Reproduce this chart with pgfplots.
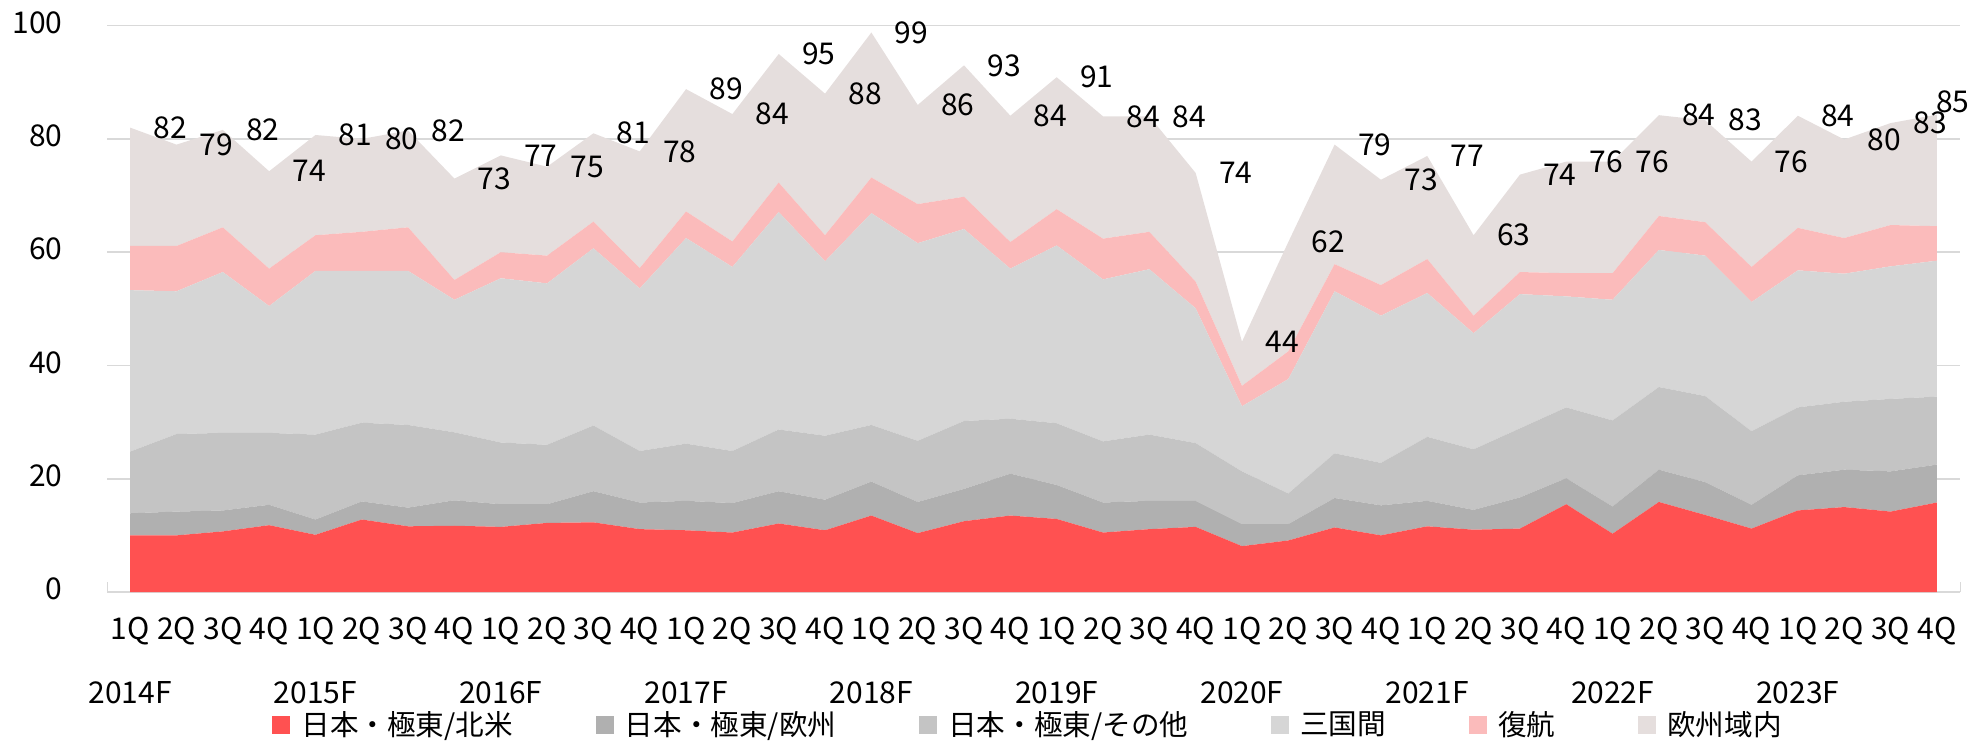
\documentclass[border=0pt]{standalone}
\usepackage{fontspec}
\setmainfont{Noto Sans CJK JP}
\usepackage{pgfplots}
\usepackage{pgfplotstable}
\pgfplotsset{compat=1.18}
\definecolor{cA}{RGB}{255,81,81}
\definecolor{cB}{RGB}{176,176,176}
\definecolor{cC}{RGB}{196,196,196}
\definecolor{cD}{RGB}{214,214,214}
\definecolor{cE}{RGB}{251,187,187}
\definecolor{cF}{RGB}{229,222,221}
\definecolor{gridc}{RGB}{217,217,217}
\newcommand\myfont{\fontsize{15pt}{18pt}\selectfont}
\newcommand\legfont{\fontsize{14.3pt}{17pt}\selectfont}
\newcommand\lastlbl{\raisebox{13pt}{\kern-12pt 85}}
\pgfplotstableread{
x s1 s2 s3 s4 s5 s6 lbl
0 10.0 3.9 10.9 28.5 7.8 20.9 82
1 10.0 4.2 13.7 25.2 8.0 17.9 79
2 10.7 3.7 13.7 28.4 7.9 17.2 82
3 11.8 3.6 12.7 22.4 6.6 17.2 74
4 10.1 2.7 15.0 28.9 6.3 17.7 81
5 12.8 3.2 13.9 26.8 6.9 16.4 80
6 11.6 3.3 14.6 27.2 7.7 17.1 82
7 11.7 4.5 12.0 23.4 3.5 17.9 73
8 11.5 4.0 10.9 29.0 4.6 17.1 77
9 12.2 3.3 10.5 28.5 4.9 15.7 75
10 12.3 5.5 11.6 31.3 4.7 15.6 81
11 11.1 4.7 9.1 28.7 3.6 20.6 78
12 10.9 5.2 10.1 36.3 4.7 21.6 89
13 10.5 5.2 9.2 32.5 4.5 22.5 84
14 12.1 5.7 10.9 38.4 5.2 22.7 95
15 10.9 5.4 11.3 30.8 4.6 25.0 88
16 13.5 6.0 10.0 37.4 6.3 25.6 99
17 10.4 5.5 10.8 34.9 6.9 17.5 86
18 12.5 5.7 12.0 33.9 5.7 23.2 93
19 13.5 7.4 9.7 26.5 4.7 22.3 84
20 12.9 6.0 10.9 31.4 6.4 23.3 91
21 10.5 5.3 10.8 28.6 7.2 21.6 84
22 11.1 5.0 11.7 29.2 6.6 20.4 84
23 11.5 4.6 10.2 23.8 4.7 19.2 74
24 8.1 3.9 9.3 11.5 3.6 7.8 44
25 9.1 2.9 5.4 20.2 4.9 19.3 62
26 11.4 5.2 7.9 28.6 4.8 21.1 79
27 10.0 5.3 7.5 26.0 5.4 18.6 73
28 11.6 4.5 11.3 25.4 6.0 18.2 77
29 11.0 3.5 10.7 20.5 3.1 14.2 63
30 11.2 5.5 12.2 23.7 3.9 17.2 74
31 15.5 4.6 12.5 19.6 4.1 19.7 76
32 10.3 4.8 15.2 21.3 4.7 19.7 76
33 15.9 5.7 14.6 24.2 6.0 17.8 84
34 13.6 5.8 15.2 24.8 5.9 18.0 83
35 11.2 4.2 13.0 22.8 6.2 18.6 76
36 14.4 6.2 12.0 24.2 7.5 19.8 84
37 15.0 6.6 12.0 22.6 6.3 17.4 80
38 14.2 7.1 12.8 23.4 7.3 18.0 83
39 15.8 6.7 12.0 24.0 6.1 19.7 \lastlbl
}\data
\pgfplotsset{
  layers/mylayers/.define layer set={axis background,axis grid,pre main,main,axis ticks,axis lines,axis tick labels,axis descriptions,axis foreground}{},
}
\begin{document}
\begin{tikzpicture}[x=1pt,y=1pt]
\begin{axis}[
  set layers=mylayers,
  at={(53.5pt,74pt)}, anchor=south west, scale only axis,
  width=926.5pt, height=283.15pt,
  xmin=-0.5, xmax=39.5, ymin=0, ymax=100,
  stack plots=y, clip=false,
  axis x line*=bottom, axis y line*=left,
  y axis line style={draw=none},
  x axis line style={draw=gridc, line width=0.8pt},
  ytick={0,20,...,100}, ymajorgrids,
  grid style={draw=gridc, line width=0.8pt},
  ytick style={draw=none},
  /pgf/number format/assume math mode=true,
  tick label style={font=\myfont, text=black},
  yticklabel style={anchor=east, inner sep=0pt, xshift=-22pt, yshift=1.5pt},
  tick align=inside,
  xtick={0,...,39},
  minor xtick={-0.5,0.5,...,39.5},
  major tick length=0pt, minor tick length=5pt,
  xtick style={draw=gridc, line width=0.5pt},
  minor tick style={draw=gridc, line width=0.5pt},
  xticklabel style={align=center, anchor=north, inner sep=0pt, yshift=-12.5pt},
  xticklabels={{1Q\\[14pt]2014F},2Q,3Q,4Q,{1Q\\[14pt]2015F},2Q,3Q,4Q,{1Q\\[14pt]2016F},2Q,3Q,4Q,{1Q\\[14pt]2017F},2Q,3Q,4Q,{1Q\\[14pt]2018F},2Q,3Q,4Q,{1Q\\[14pt]2019F},2Q,3Q,4Q,{1Q\\[14pt]2020F},2Q,3Q,4Q,{1Q\\[14pt]2021F},2Q,3Q,4Q,{1Q\\[14pt]2022F},2Q,3Q,4Q,{1Q\\[14pt]2023F},2Q,3Q,4Q},
  legend columns=6,
  legend style={draw=none, fill=none, at={(0,0)}, anchor=west, xshift=82.5pt, yshift=-66.5pt,
    inner sep=0pt, nodes={inner sep=0pt, font=\legfont, text=black},
    /tikz/every even column/.append style={column sep=41.5pt}},
  legend image code/.code={\fill[#1,draw=none] (0pt,-4.5pt) rectangle (9pt,4.5pt); \path (14.5pt,0pt);},
]
\addplot[fill=cA, draw=none] table[x=x, y=s1]{\data} \closedcycle;
\addlegendentry{日本・極東/北米}
\addplot[fill=cB, draw=none] table[x=x, y=s2]{\data} \closedcycle;
\addlegendentry{日本・極東/欧州}
\addplot[fill=cC, draw=none] table[x=x, y=s3]{\data} \closedcycle;
\addlegendentry{日本・極東/その他}
\addplot[fill=cD, draw=none] table[x=x, y=s4]{\data} \closedcycle;
\addlegendentry{三国間}
\addplot[fill=cE, draw=none] table[x=x, y=s5]{\data} \closedcycle;
\addlegendentry{復航}
\addplot[fill=cF, draw=none,
  nodes near coords, point meta=explicit symbolic,
  every node near coord/.append style={anchor=west, inner sep=0pt, xshift=11.5pt, text=black, fill=none, draw=none, font=\myfont}]
  table[x=x, y=s6, meta=lbl]{\data} \closedcycle;
\addlegendentry{欧州域内}
\end{axis}
\useasboundingbox (0,0) rectangle (992,370);
\end{tikzpicture}
\end{document}
